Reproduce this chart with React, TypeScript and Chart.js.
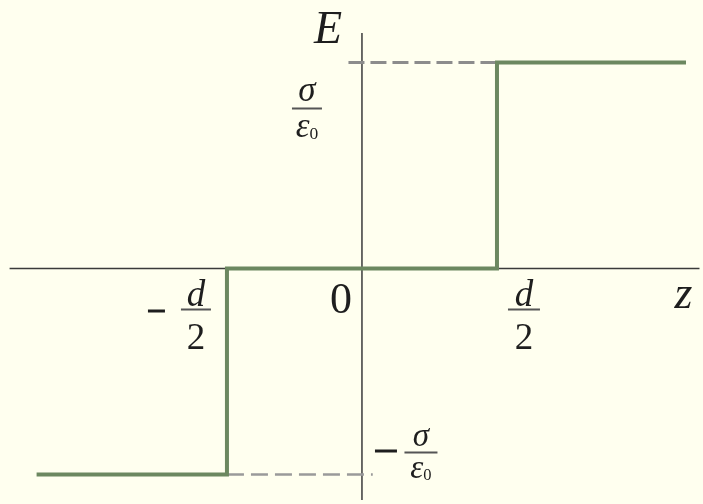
import { useEffect, useRef } from "react";
import { Chart, registerables } from "chart.js";

Chart.register(...registerables);

// Field E(z) of a charged slab: step from -σ/ε0 to 0 to +σ/ε0 (z in units of d/2, E in units of σ/ε0)
const fieldZ = [-2.41, -1, -1, 1, 1, 2.4];
const fieldE = [-1, -1, 0, 0, 1, 1];

// Coordinate axes extents
const zAxisZ = [-2.61, 2.5];
const eAxisE = [-1.124, 1.143];

// Dashed guide lines to the E axis
const upperGuideZ = [-0.1, 1];
const lowerGuideZ = [-1, 0.08];

// Visible window
const zView = [-2.681, 2.526];
const eView = [-1.1432, 1.3034];

const SERIF = '"Liberation Serif", "DejaVu Serif", serif';
const INK = "#1E1E1E";

const pts = (xs: number[], ys: number[]) => xs.map((x, i) => ({ x, y: ys[i] }));

function drawFrac(
  ctx: CanvasRenderingContext2D,
  cx: number,
  barY: number,
  num: string,
  den: string,
  sub: string,
  size: number,
  numDy: number,
  denDy: number,
  barW: number,
  denItalic: boolean
) {
  ctx.textAlign = "center";
  ctx.textBaseline = "alphabetic";
  ctx.font = `italic ${size}px ${SERIF}`;
  ctx.fillText(num, cx, barY - numDy);
  ctx.fillStyle = "#555";
  ctx.fillRect(cx - barW / 2, barY - 1, barW, 2);
  ctx.fillStyle = INK;
  const denFont = `${denItalic ? "italic " : ""}${size}px ${SERIF}`;
  ctx.font = denFont;
  const dw = ctx.measureText(den).width;
  let subW = 0;
  if (sub) {
    ctx.font = `${size * 0.5}px ${SERIF}`;
    subW = ctx.measureText(sub).width;
  }
  const left = cx - (dw + subW) / 2;
  ctx.textAlign = "left";
  ctx.font = denFont;
  ctx.fillText(den, left, barY + denDy);
  if (sub) {
    ctx.font = `${size * 0.5}px ${SERIF}`;
    ctx.fillText(sub, left + dw, barY + denDy + 2);
  }
}

const labelsPlugin = {
  id: "slabLabels",
  afterDatasetsDraw(chart: Chart) {
    const { ctx } = chart;
    const xs = chart.scales.x;
    const ys = chart.scales.y;
    const x0 = xs.getPixelForValue(0);
    const xm = xs.getPixelForValue(-1);
    const xp = xs.getPixelForValue(1);
    const xEnd = xs.getPixelForValue(zAxisZ[1]);
    const y0 = ys.getPixelForValue(0);
    const yTop = ys.getPixelForValue(1);
    const yBot = ys.getPixelForValue(-1);

    ctx.save();
    ctx.fillStyle = INK;
    ctx.textAlign = "center";
    ctx.textBaseline = "alphabetic";

    // axis names
    ctx.font = `italic 46px ${SERIF}`;
    ctx.fillText("E", x0 - 34, 43);
    ctx.fillText("z", xEnd - 16, y0 + 39);

    // origin
    ctx.font = `44px ${SERIF}`;
    ctx.fillText("0", x0 - 21, y0 + 44);

    // ±d/2 on the z axis
    drawFrac(ctx, xp + 27, y0 + 41, "d", "2", "", 37, 4, 39, 32, false);
    ctx.fillRect(xm - 79, y0 + 41, 17, 3);
    drawFrac(ctx, xm - 31, y0 + 41, "d", "2", "", 37, 4, 39, 30, false);

    // ±σ/ε0 on the E axis
    drawFrac(ctx, x0 - 55, yTop + 46, "σ", "ε", "0", 35, 8, 28, 30, true);
    ctx.fillRect(x0 + 13, yBot - 25, 22, 3);
    drawFrac(ctx, x0 + 59, yBot - 22, "σ", "ε", "0", 33, 7, 25, 33, true);

    ctx.restore();
  },
};

export default function App() {
  const canvasRef = useRef<HTMLCanvasElement | null>(null);

  useEffect(() => {
    const canvas = canvasRef.current;
    if (!canvas) return;
    const chart = new Chart(canvas, {
      type: "line",
      data: {
        datasets: [
          {
            data: pts(fieldZ, fieldE),
            borderColor: "#6C8860",
            borderWidth: 4,
            borderJoinStyle: "miter",
            borderCapStyle: "butt",
            pointRadius: 0,
            tension: 0,
          },
          {
            data: pts(upperGuideZ, [1, 1]),
            borderColor: "#8C8C8C",
            borderWidth: 3,
            borderDash: [16, 6],
            pointRadius: 0,
          },
          {
            data: pts(lowerGuideZ, [-1, -1]),
            borderColor: "#9A9A9A",
            borderWidth: 2.5,
            borderDash: [17, 7],
            pointRadius: 0,
          },
          {
            data: pts(zAxisZ, [0, 0]),
            borderColor: "#3A3A3A",
            borderWidth: 1.5,
            pointRadius: 0,
          },
          {
            data: pts([0, 0], eAxisE),
            borderColor: "#3A3A3A",
            borderWidth: 1.5,
            pointRadius: 0,
          },
        ],
      },
      options: {
        animation: false,
        responsive: false,
        maintainAspectRatio: false,
        layout: { padding: 0 },
        plugins: {
          legend: { display: false },
          tooltip: { enabled: false },
        },
        scales: {
          x: { type: "linear", min: zView[0], max: zView[1], display: false },
          y: { type: "linear", min: eView[0], max: eView[1], display: false },
        },
      },
      plugins: [labelsPlugin],
    });
    return () => chart.destroy();
  }, []);

  return (
    <div
      style={{
        position: "fixed",
        left: 0,
        top: 0,
        width: 703,
        height: 504,
        background: "#FFFFEF",
      }}
    >
      <canvas ref={canvasRef} width={703} height={504} />
    </div>
  );
}
